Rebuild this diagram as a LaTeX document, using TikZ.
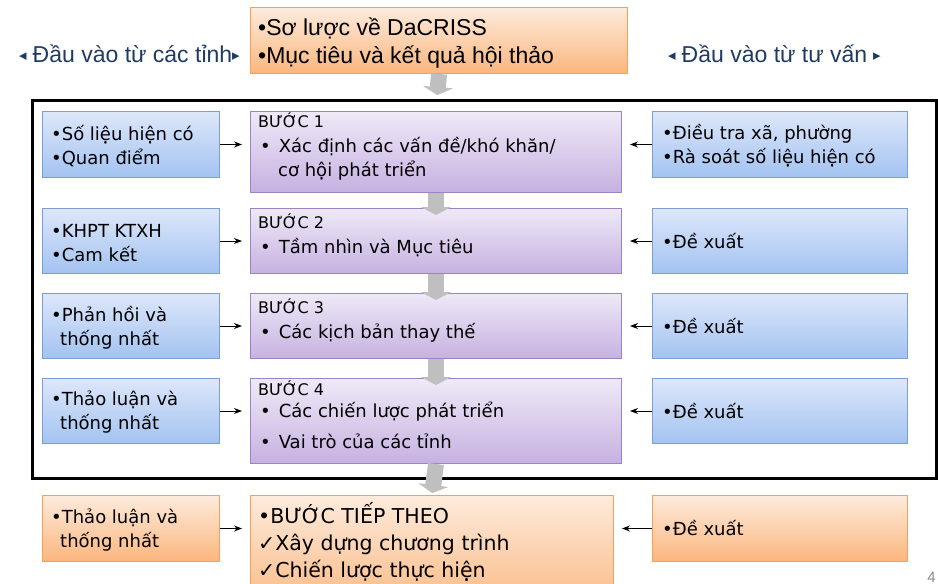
\documentclass[tikz,border=0pt]{standalone}
\usepackage{fontspec}
\setmainfont{Liberation Sans}
\newfontfamily\tah{DejaVu Sans}
\newfontfamily\symf{DejaVu Sans}
\usetikzlibrary{arrows.meta}

\definecolor{orgline}{HTML}{F8A05A}
\definecolor{orgtop}{HTML}{FDEBDC}
\definecolor{orgbot}{HTML}{FBB67E}
\definecolor{blueline}{HTML}{7A9ED6}
\definecolor{bluetop}{HTML}{DDE7FA}
\definecolor{bluebot}{HTML}{A3C3F1}
\definecolor{purline}{HTML}{9C84C4}
\definecolor{purtop}{HTML}{EFE9F7}
\definecolor{purbot}{HTML}{C6B1E1}
\definecolor{navy}{HTML}{1F3B63}
\definecolor{flowgray}{HTML}{BFBFBF}
\definecolor{pagegray}{HTML}{8C8C8C}

\tikzset{
  box/.style={rectangle, anchor=north west, inner sep=0pt, line width=1pt},
  orangebox/.style={box, draw=orgline, top color=orgtop, bottom color=orgbot},
  bluebox/.style={box, draw=blueline, top color=bluetop, bottom color=bluebot},
  stepbox/.style={box, draw=purline, top color=purtop, bottom color=purbot},
  boxtext/.style={anchor=north west, inner sep=0pt, align=left,
    font=\tah\fontsize{18}{24}\selectfont},
  nexttext/.style={anchor=north west, inner sep=0pt, align=left,
    font=\tah\fontsize{20.5}{27}\selectfont},
  toptext/.style={anchor=north west, inner sep=0pt, align=left,
    font=\fontsize{23}{28}\selectfont},
  sidelabel/.style={anchor=base west, inner sep=0pt, text=navy,
    font=\fontsize{23}{28}\selectfont},
  feed/.style={-{Stealth[length=8pt,width=6pt]}, line width=0.9pt,
    shorten >=8pt},
  flow/.style={draw=flowgray, line width=16pt,
    -{Triangle[width=30pt,length=8pt]}},
}

\newcommand{\stephead}[1]{{\fontsize{16}{24}\selectfont #1}}
\newcommand{\tri}[1]{{\symf\fontsize{15}{15}\selectfont\raisebox{2pt}{#1}}}

\begin{document}
\begin{tikzpicture}[x=1pt,y=-1pt]
  \useasboundingbox (0,0) rectangle (938,584);
  \clip (0,0) rectangle (938,584);

  % heading box and the two input labels
  \node[orangebox, minimum width=377pt, minimum height=66pt] (top) at (250,7) {};
  \node[toptext] (toptx) at (258,16) {\strut•Sơ lược về DaCRISS\\•Mục tiêu và kết quả hội thảo};
  \node[sidelabel] (inprov) at (19,62.7) {\tri{◂}\hspace{6pt}Đầu vào từ các tỉnh\tri{▸}};
  \node[sidelabel] (incons) at (668,62.7) {\tri{◂}\hspace{6pt}Đầu vào từ tư vấn\hspace{6pt}\tri{▸}};

  % workshop frame
  \node[box, draw=black, line width=3pt, minimum width=904pt, minimum height=378pt] (frame) at (31,99) {};

  % provincial inputs
  \node[bluebox, minimum width=177pt, minimum height=66pt] (L1) at (42,111) {};
  \node[bluebox, minimum width=177pt, minimum height=65pt] (L2) at (42,208) {};
  \node[bluebox, minimum width=177pt, minimum height=65pt] (L3) at (42,293) {};
  \node[bluebox, minimum width=177pt, minimum height=65pt] (L4) at (42,378) {};

  % steps
  \node[stepbox, minimum width=371pt, minimum height=81pt] (S1) at (250,111) {};
  \node[stepbox, minimum width=371pt, minimum height=65pt] (S2) at (250,208) {};
  \node[stepbox, minimum width=371pt, minimum height=65pt] (S3) at (250,293) {};
  \node[stepbox, minimum width=371pt, minimum height=85pt] (S4) at (250,378) {};

  % consultant inputs
  \node[bluebox, minimum width=255pt, minimum height=66pt] (R1) at (652,111) {};
  \node[bluebox, minimum width=255pt, minimum height=65pt] (R2) at (652,208) {};
  \node[bluebox, minimum width=255pt, minimum height=65pt] (R3) at (652,293) {};
  \node[bluebox, minimum width=255pt, minimum height=65pt] (R4) at (652,378) {};

  % follow-up row
  \node[orangebox, minimum width=177pt, minimum height=66pt] (BL) at (42,495) {};
  \node[orangebox, minimum width=363pt, minimum height=120pt] (BC) at (250,495) {};
  \node[orangebox, minimum width=255pt, minimum height=66pt] (BR) at (652,495) {};

  % texts of the input boxes
  \node[boxtext] (L1t) at (51,123.2) {\strut•Số liệu hiện có\\•Quan điểm};
  \node[boxtext] (L2t) at (51,220.2) {\strut•KHPT KTXH\\•Cam kết};
  \node[boxtext] (L3t) at (51,304.2) {\strut•Phản hồi và\\\hspace{9pt}thống nhất};
  \node[boxtext] (L4t) at (51,388.2) {\strut•Thảo luận và\\\hspace{9pt}thống nhất};
  \node[boxtext] (R1t) at (662,122.2) {\strut•Điều tra xã, phường\\•Rà soát số liệu hiện có};
  \node[boxtext] (R2t) at (662,231.2) {\strut•Đề xuất};
  \node[boxtext] (R3t) at (662,316.2) {\strut•Đề xuất};
  \node[boxtext] (R4t) at (662,401.2) {\strut•Đề xuất};

  % texts of the steps
  \node[boxtext] (S1t) at (258,110) {\strut\stephead{BƯỚC 1}\\[1pt]\hspace{2pt}•\hspace{8pt}Xác định các vấn đề/khó khăn/\\\hspace{20pt}cơ hội phát triển};
  \node[boxtext] (S2t) at (258,211) {\strut\stephead{BƯỚC 2}\\[1pt]\hspace{2pt}•\hspace{8pt}Tầm nhìn và Mục tiêu};
  \node[boxtext] (S3t) at (258,296) {\strut\stephead{BƯỚC 3}\\[1pt]\hspace{2pt}•\hspace{8pt}Các kịch bản thay thế};
  \node[boxtext] (S4t) at (258,378) {\strut\stephead{BƯỚC 4}\\[-2pt]\hspace{2pt}•\hspace{8pt}Các chiến lược phát triển\\[7pt]\hspace{2pt}•\hspace{8pt}Vai trò của các tỉnh};

  % texts of the follow-up row
  \node[boxtext] (BLt) at (51,506.2) {\strut•Thảo luận và\\\hspace{9pt}thống nhất};
  \node[boxtext] (BRt) at (662,518.2) {\strut•Đề xuất};
  \node[nexttext] (BCt) at (258,502) {\strut•BƯỚC TIẾP THEO\\✓Xây dựng chương trình\\✓Chiến lược thực hiện};

  % main flow
  \draw[flow, shorten >=16pt] (top.south) -- (S1.north);
  \draw[flow, shorten >=-7pt] (S1.south) -- (S2.north);
  \draw[flow, shorten >=-7pt] (S2.south) -- (S3.north);
  \draw[flow, shorten >=-7pt] (S3.south) -- (S4.north);
  \draw[flow, shorten >=2pt] (S4.south) -- (BC.north);

  % inputs into the steps
  \draw[feed] (L1.east) -- (L1.east -| S1.west);
  \draw[feed] (L2.east) -- (L2.east -| S2.west);
  \draw[feed] (L3.east) -- (L3.east -| S3.west);
  \draw[feed] (L4.east) -- (L4.east -| S4.west);
  \draw[feed] (R1.west) -- (R1.west -| S1.east);
  \draw[feed] (R2.west) -- (R2.west -| S2.east);
  \draw[feed] (R3.west) -- (R3.west -| S3.east);
  \draw[feed] (R4.west) -- (R4.west -| S4.east);
  \draw[feed] (BL.east) -- (BL.east -| BC.west);
  \draw[feed] (BR.west) -- (BR.west -| BC.east);

  % page number
  \node[anchor=base east, inner sep=0pt, text=pagegray, font=\fontsize{15}{15}\selectfont] (pageno) at (936,582) {4};
\end{tikzpicture}
\end{document}
